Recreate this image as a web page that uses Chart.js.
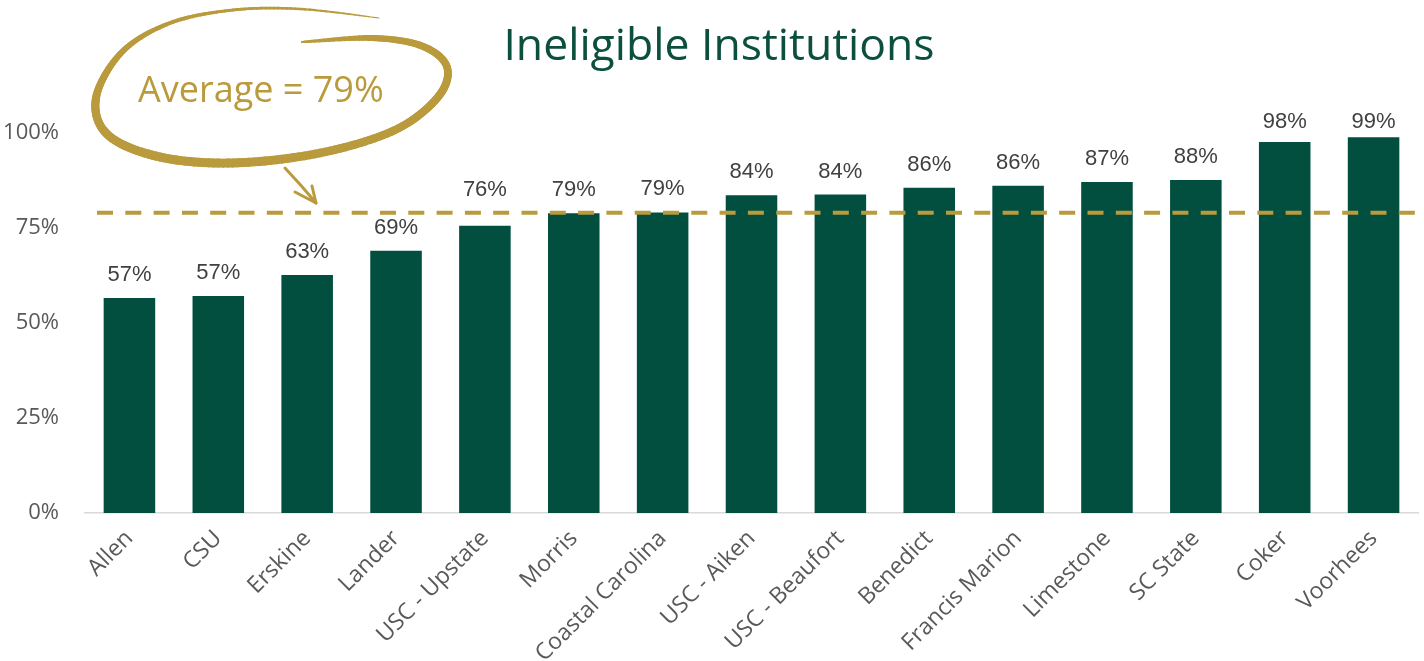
<!DOCTYPE html>
<html>
<head>
<meta charset="utf-8">
<script src="https://cdn.jsdelivr.net/npm/chart.js@4"></script>
<style>
html,body{margin:0;padding:0;background:#fff;}
#wrap{width:1424px;height:661px;position:relative;}
</style>
</head>
<body>
<div id="wrap"><canvas id="c"></canvas></div>
<script>
const categories = ["Allen","CSU","Erskine","Lander","USC - Upstate","Morris","Coastal Carolina","USC - Aiken","USC - Beaufort","Benedict","Francis Marion","Limestone","SC State","Coker","Voorhees"];
const ineligibleShare = [56.6,57.1,62.6,69.0,75.6,78.9,79.1,83.6,83.8,85.6,86.1,87.1,87.6,97.6,98.9];
const averageValue = 79;
const averageText = "Average = 79%";
const chartTitle = "Ineligible Institutions";
const yTicks = [0,25,50,75,100];

const GOLD = '#B99A3C';
const GREEN = '#024F40';

const labelPlugin = {
  id: 'barLabels',
  afterDatasetsDraw(chart) {
    const ctx = chart.ctx;
    const meta = chart.getDatasetMeta(0);
    const avgY = chart.scales.y.getPixelForValue(averageValue);
    ctx.save();
    ctx.font = '22px "Liberation Sans", Arial, sans-serif';
    ctx.fillStyle = '#404040';
    ctx.textAlign = 'center';
    ctx.textBaseline = 'alphabetic';
    meta.data.forEach((bar, i) => {
      let base = bar.y - 17;
      // keep labels clear of the average line
      if (base > avgY - 14 && base - 16 < avgY + 3) base = avgY - 17;
      // keep labels near the plot top
      base = Math.max(base, chart.chartArea.top - 5);
      ctx.fillText(Math.round(ineligibleShare[i]) + '%', bar.x, base);
    });
    // average dashed line
    ctx.strokeStyle = GOLD;
    ctx.lineWidth = 4;
    ctx.setLineDash([16, 12.3]);
    ctx.beginPath();
    ctx.moveTo(chart.chartArea.left + 12, avgY);
    ctx.lineTo(chart.chartArea.right, avgY);
    ctx.stroke();
    ctx.restore();
  }
};

function catmull(pts, steps) {
  const out = [];
  for (let i = 0; i < pts.length - 1; i++) {
    const p0 = pts[Math.max(0, i - 1)], p1 = pts[i], p2 = pts[i + 1], p3 = pts[Math.min(pts.length - 1, i + 2)];
    for (let s = 0; s < steps; s++) {
      const t = s / steps, t2 = t * t, t3 = t2 * t;
      const f = (a, b, c, d) => 0.5 * ((2 * b) + (-a + c) * t + (2 * a - 5 * b + 4 * c - d) * t2 + (-a + 3 * b - 3 * c + d) * t3);
      out.push([f(p0[0], p1[0], p2[0], p3[0]), f(p0[1], p1[1], p2[1], p3[1]), p1[2] + (p2[2] - p1[2]) * t]);
    }
  }
  out.push(pts[pts.length - 1]);
  return out;
}

const annotationPlugin = {
  id: 'avgAnnotation',
  afterDraw(chart) {
    const ctx = chart.ctx;
    ctx.save();
    // title
    ctx.fillStyle = '#0B4F3E';
    ctx.font = '44.5px "Open Sans", sans-serif';
    ctx.textAlign = 'center';
    ctx.textBaseline = 'middle';
    ctx.fillText(chartTitle, 719, 47);

    const pts = [[379,18,1],[300,9,2.5],[233,10,3],[170,23,4],[122,52,6],[96,98,8],[108,135,8.5],[160,157,9],[233,163,9],[320,153,8.5],[395,130,8],[438,97,8],[447,67,7.5],[422,46,7],[372,38,6],[302,42,2]];
    const curve = catmull(pts, 16);
    ctx.strokeStyle = GOLD;
    ctx.lineCap = 'round';
    for (let i = 0; i < curve.length - 1; i++) {
      ctx.lineWidth = curve[i][2];
      ctx.beginPath();
      ctx.moveTo(curve[i][0], curve[i][1]);
      ctx.lineTo(curve[i + 1][0], curve[i + 1][1]);
      ctx.stroke();
    }
    // arrow
    ctx.lineWidth = 3;
    ctx.lineJoin = 'round';
    ctx.beginPath();
    ctx.moveTo(285, 168);
    ctx.quadraticCurveTo(302, 186, 316, 203);
    ctx.stroke();
    ctx.beginPath();
    ctx.moveTo(295, 192);
    ctx.lineTo(316, 203);
    ctx.lineTo(312, 186);
    ctx.stroke();
    // text
    ctx.fillStyle = GOLD;
    ctx.font = '36px "Open Sans", sans-serif';
    ctx.textAlign = 'left';
    ctx.textBaseline = 'alphabetic';
    ctx.fillText(averageText, 138, 102);
    ctx.restore();
  }
};

new Chart(document.getElementById('c'), {
  type: 'bar',
  data: {
    labels: categories,
    datasets: [{
      data: ineligibleShare,
      backgroundColor: GREEN,
      borderWidth: 0,
      barPercentage: 0.58,
      categoryPercentage: 1.0
    }]
  },
  options: {
    responsive: true,
    maintainAspectRatio: false,
    animation: false,
    layout: { padding: { left: 0, right: 6, top: 133, bottom: 0 } },
    plugins: {
      legend: { display: false },
      tooltip: { enabled: false },
      title: { display: false }
    },
    scales: {
      x: {
        grid: { display: false },
        border: { display: true, color: '#D9D9D9', width: 1.5 },
        ticks: {
          color: '#595959',
          font: { family: '"Open Sans", sans-serif', size: 23 },
          maxRotation: 45, minRotation: 45,
          autoSkip: false,
          padding: 4
        },
        afterFit(scale) { scale.height = 148; }
      },
      y: {
        min: 0, max: 100,
        grid: { display: false },
        border: { display: false },
        afterBuildTicks(scale) { scale.ticks = yTicks.map(v => ({ value: v })); },
        ticks: {
          color: '#595959',
          font: { family: '"Open Sans", sans-serif', size: 22 },
          padding: 18,
          callback: v => v + '%'
        },
        afterFit(scale) { scale.width = 85; }
      }
    }
  },
  plugins: [labelPlugin, annotationPlugin]
});
</script>
</body>
</html>
